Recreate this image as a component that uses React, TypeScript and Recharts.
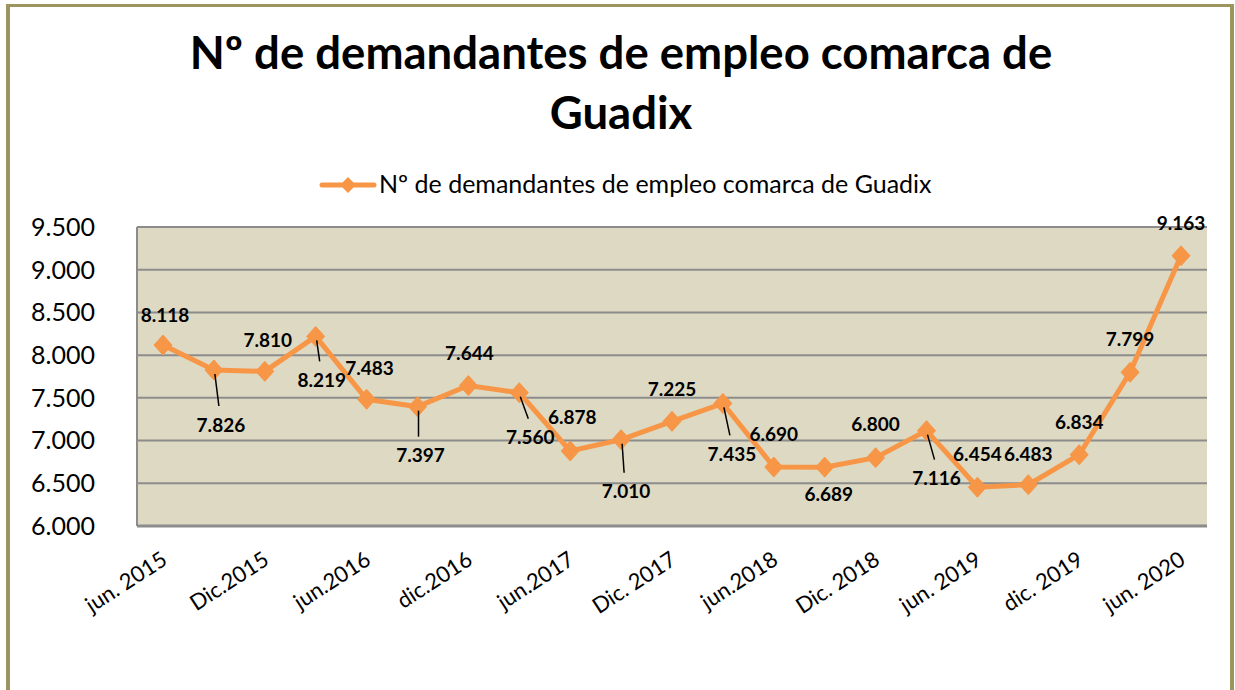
import React from "react";
import { LineChart, Line, XAxis, YAxis, CartesianGrid } from "recharts";

// ---- data ----
const categories = [
  "jun. 2015", "", "Dic.2015", "", "jun.2016", "", "dic.2016", "", "jun.2017", "",
  "Dic. 2017", "", "jun.2018", "", "Dic. 2018", "", "jun. 2019", "", "dic. 2019", "", "jun. 2020",
];
const values = [
  8118, 7826, 7810, 8219, 7483, 7397, 7644, 7560, 6878, 7010,
  7225, 7435, 6690, 6689, 6800, 7116, 6454, 6483, 6834, 7799, 9163,
];
const yTicks = [6000, 6500, 7000, 7500, 8000, 8500, 9000, 9500];
const seriesName = "Nº de demandantes de empleo comarca de Guadix";
const titleLines = ["Nº de demandantes de empleo comarca de", "Guadix"];

// ---- label placement (style) ----
const LABEL_OFFSETS: [number, number][] = [
  [2, -31], [7, 54], [3, -32], [6, 43], [3, -32], [3, 48], [1, -33], [11, 44],
  [2, -34], [5, 51], [0, -33], [9, 50], [0, -34], [4, 26], [0, -34], [10, 47],
  [0, -34], [0, -31], [0, -33], [0, -34], [0, -33],
];

const data = categories.map((c, i) => ({ period: c, value: values[i] }));

const fmt = (v: number) => {
  const t = Math.floor(v / 1000);
  const r = String(Math.round(v % 1000)).padStart(3, "0");
  return `${t}.${r}`;
};

const ORANGE = "#F79646";
const GRID = "#8C8C8C";
const FONT = "Lato, 'Open Sans', sans-serif";

const Diamond = (props: any) => {
  const { cx, cy, index } = props;
  if (cx == null || cy == null) return <g key={`d-${index}`} />;
  const w = 9, h = 10;
  return (
    <polygon
      key={`d-${index}`}
      points={`${cx},${cy - h} ${cx + w},${cy} ${cx},${cy + h} ${cx - w},${cy}`}
      fill={ORANGE}
      stroke={ORANGE}
      strokeWidth={1}
    />
  );
};

const DataLabel = (props: any) => {
  const { x, y, value, index } = props;
  const [dx, dy] = LABEL_OFFSETS[index] || [0, -30];
  const lx = x + dx;
  const ly = y + dy;
  const leader = dy > 35;
  return (
    <g key={`l-${index}`}>
      {leader && (
        <line x1={x + 1} y1={y + 4} x2={lx - 2} y2={ly - 18} stroke="#000" strokeWidth={1.5} />
      )}
      <text
        x={lx}
        y={ly}
        textAnchor="middle"
        dominantBaseline="central"
        fontFamily={FONT}
        fontWeight={700}
        fontSize={19}
        fill="#000"
      >
        {fmt(value)}
      </text>
    </g>
  );
};

const XTick = (props: any) => {
  const { x, y, payload } = props;
  if (!payload || !payload.value) return <g />;
  const ax = x - 3;
  const ay = y + 24;
  return (
    <text
      x={ax}
      y={ay}
      dy="0.72em"
      textAnchor="end"
      transform={`rotate(-33 ${ax} ${ay})`}
      fontFamily={FONT}
      fontSize={22}
      fill="#000"
    >
      {payload.value}
    </text>
  );
};

export default function App() {
  return (
    <div
      style={{
        position: "absolute",
        left: 0,
        top: 0,
        width: 1235,
        height: 690,
        background: "#fff",
        overflow: "hidden",
      }}
    >
      <div
        style={{
          position: "absolute",
          left: 6,
          top: 4,
          width: 1228,
          height: 720,
          borderStyle: "solid",
          borderColor: "#9C9560",
          borderWidth: "3px 4px 0 4px",
          boxSizing: "border-box",
        }}
      />
      <svg
        width={1235}
        height={690}
        style={{ position: "absolute", left: 0, top: 0 }}
      >
        <text x={621} y={69} textAnchor="middle" fontFamily={FONT} fontWeight={700} fontSize={45.5} fill="#000">
          {titleLines[0]}
        </text>
        <text x={621} y={129} textAnchor="middle" fontFamily={FONT} fontWeight={700} fontSize={45.5} fill="#000">
          {titleLines[1]}
        </text>
        <line x1={322} y1={185} x2={374} y2={185} stroke={ORANGE} strokeWidth={5} strokeLinecap="round" />
        <polygon points="348,177 356,185 348,193 340,185" fill={ORANGE} />
        <text x={379} y={193} fontFamily={FONT} fontSize={25} fill="#000">
          {seriesName}
        </text>
      </svg>
      <div style={{ position: "absolute", left: 0, top: 0 }}>
        <LineChart
          width={1235}
          height={690}
          data={data}
          margin={{ top: 227, right: 28, bottom: 124, left: 37 }}
        >
          <CartesianGrid vertical={false} stroke={GRID} strokeWidth={2} fill="#DDD9C3" />
          <XAxis
            dataKey="period"
            interval={0}
            padding={{ left: 26, right: 26 }}
            tickLine={false}
            tickSize={0}
            tickMargin={0}
            height={40}
            axisLine={{ stroke: GRID, strokeWidth: 3 }}
            tick={<XTick />}
          />
          <YAxis
            domain={[6000, 9500]}
            ticks={yTicks}
            tickFormatter={fmt}
            width={100}
            tickLine={false}
            tickSize={0}
            tickMargin={42}
            axisLine={{ stroke: GRID, strokeWidth: 2 }}
            tick={{ fontFamily: FONT, fontSize: 25, fill: "#000" }}
            allowDataOverflow
          />
          <Line
            type="linear"
            dataKey="value"
            name={seriesName}
            stroke={ORANGE}
            strokeWidth={5}
            dot={Diamond}
            activeDot={false}
            label={DataLabel}
            isAnimationActive={false}
          />
        </LineChart>
      </div>
    </div>
  );
}
